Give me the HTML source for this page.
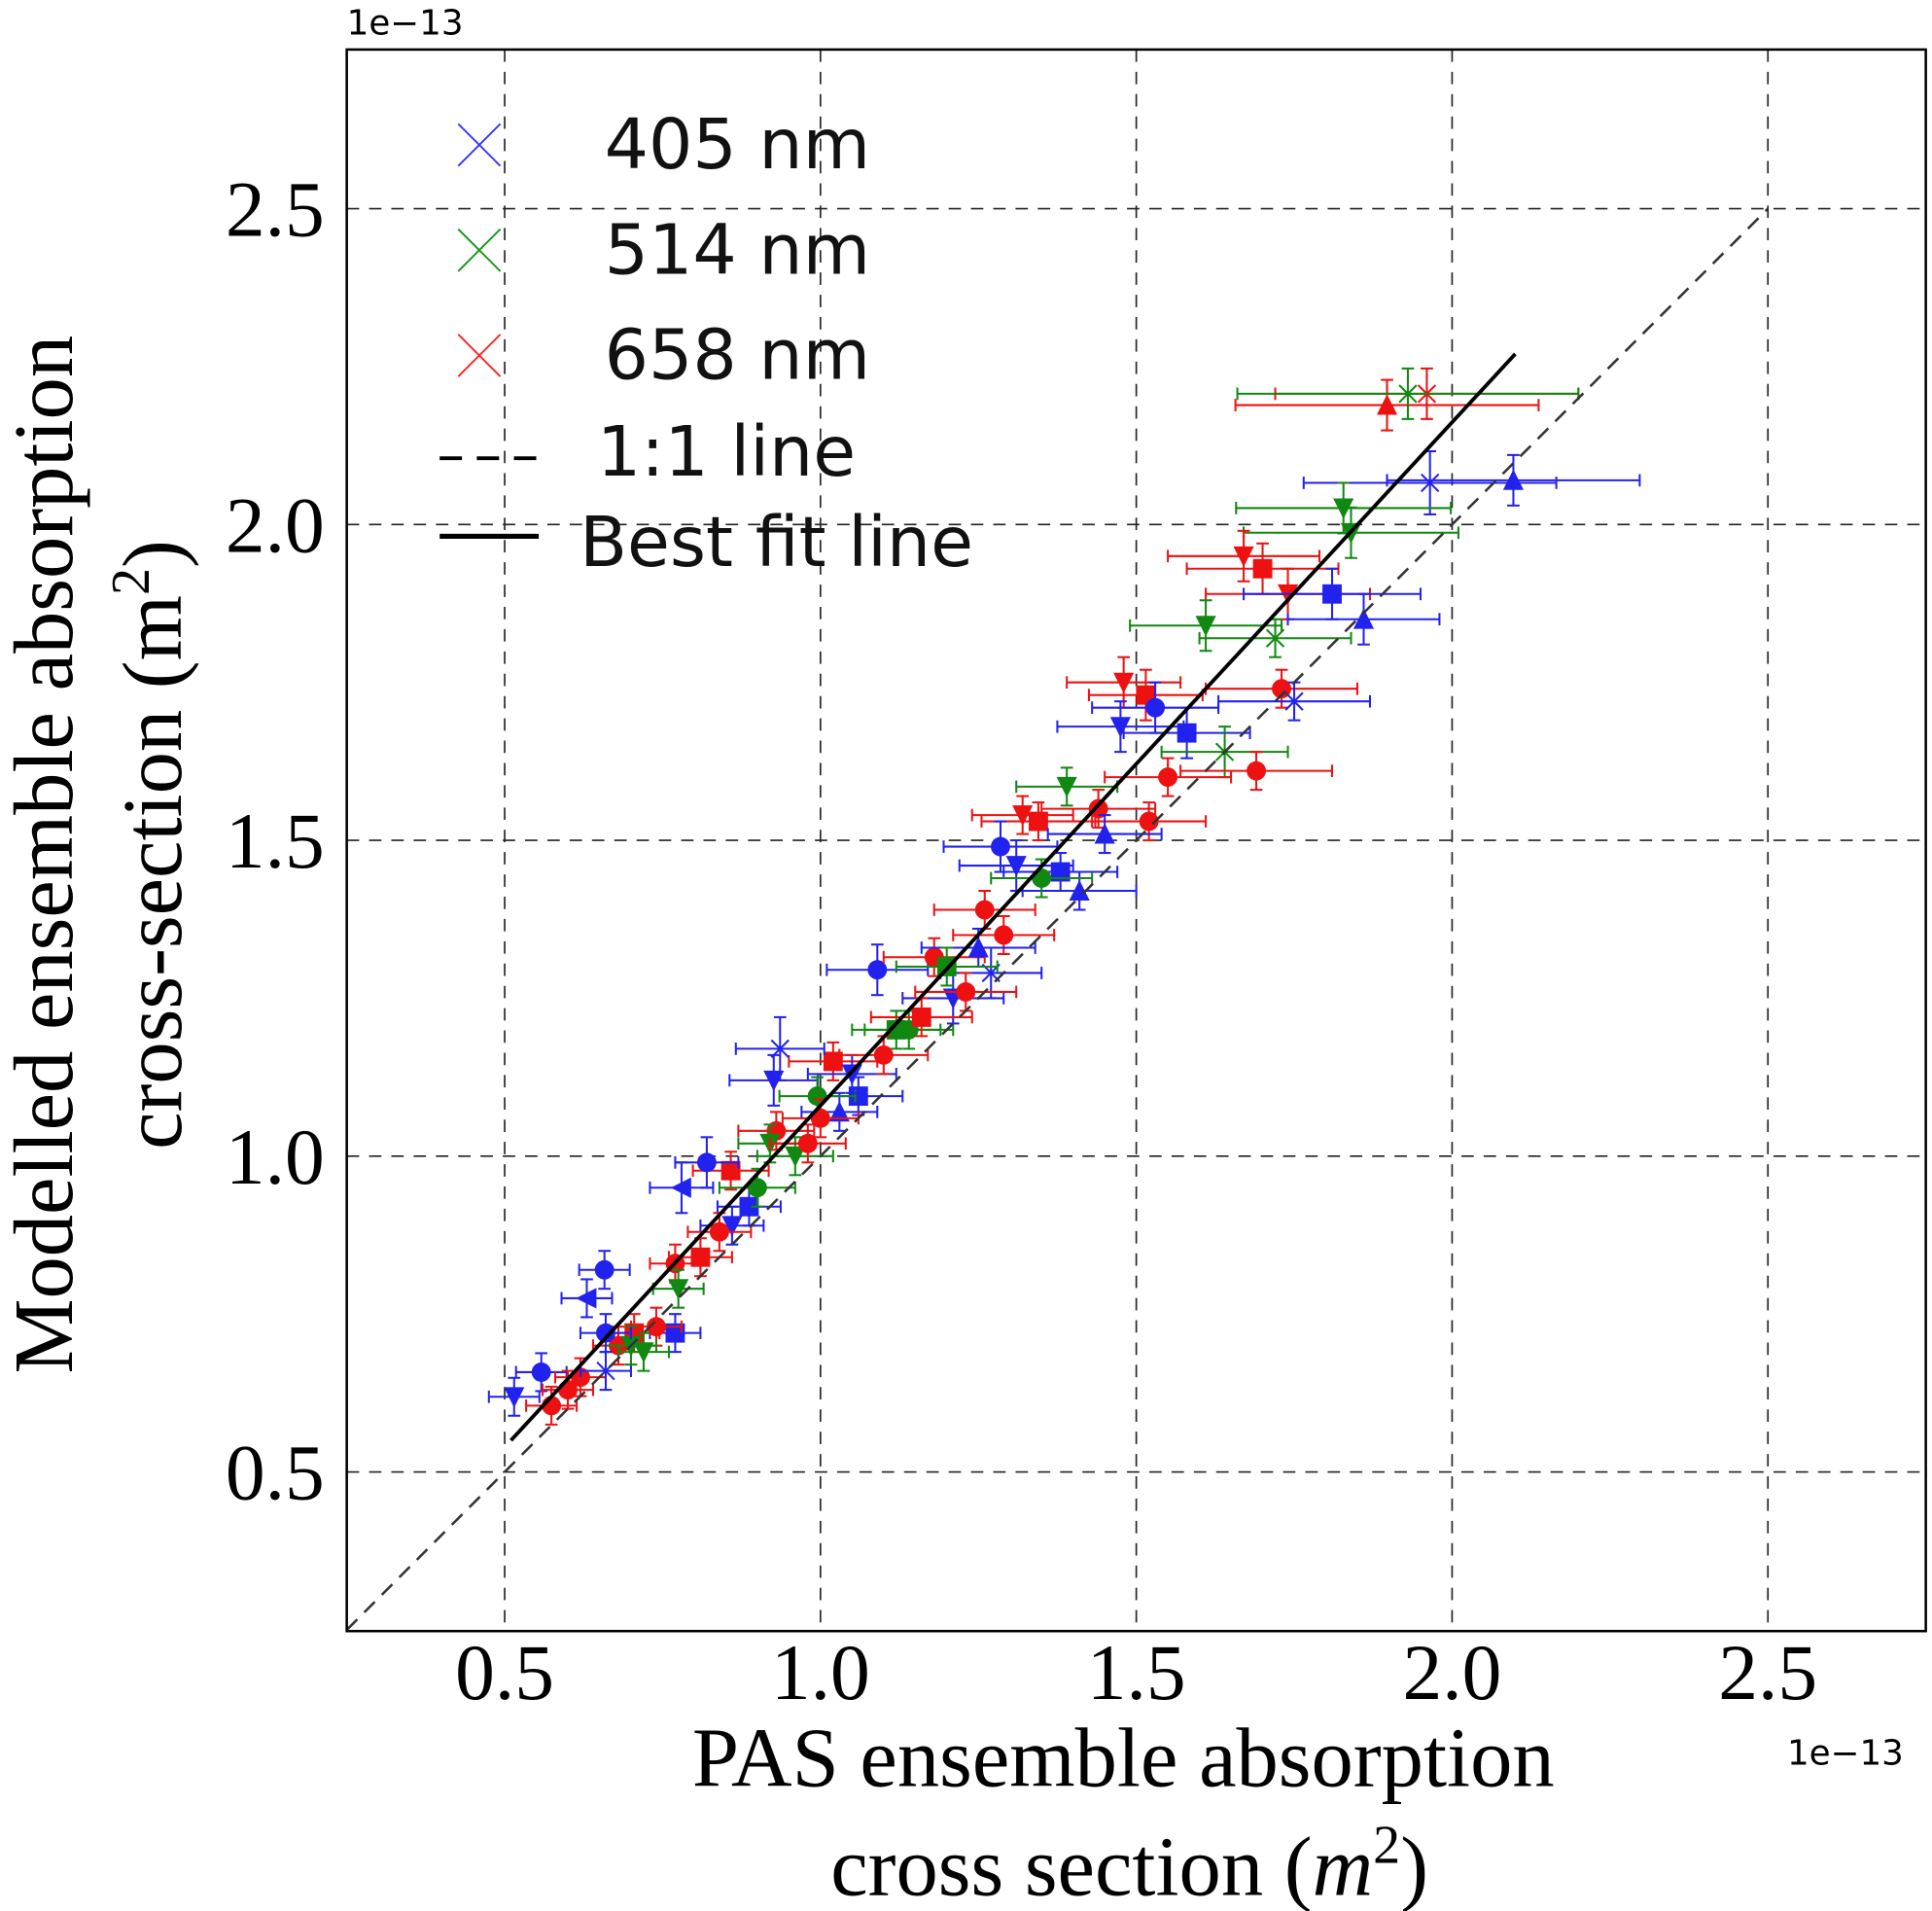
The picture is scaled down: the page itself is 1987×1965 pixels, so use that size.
<!DOCTYPE html>
<html><head><meta charset="utf-8">
<style>html,body{margin:0;padding:0;background:#fff}svg{display:block}</style>
</head><body>
<svg id="chart" width="1987" height="1965" viewBox="0 0 1560 1543" preserveAspectRatio="none" xmlns="http://www.w3.org/2000/svg">
<g id="grid"></g>
<g id="marks"></g>
<g id="lines"></g>
<rect x="280" y="40" width="1275" height="1277" fill="none" stroke="#000" stroke-width="2"/>
<g id="ticks" font-family="'Liberation Serif',serif" font-size="64"></g>
<text x="280" y="28" font-family="'DejaVu Sans',sans-serif" font-size="28">1e−13</text>
<text x="1443" y="1425" font-family="'DejaVu Sans',sans-serif" font-size="28">1e−13</text>
<text x="907" y="1442" text-anchor="middle" font-family="'Liberation Serif',serif" font-size="68">PAS ensemble absorption</text>
<text x="912" y="1530" text-anchor="middle" font-family="'Liberation Serif',serif" font-size="68">cross section (<tspan font-style="italic">m</tspan><tspan dy="-26" font-size="44">2</tspan><tspan dy="26">)</tspan></text>
<text transform="translate(58,690) rotate(-90)" text-anchor="middle" font-family="'Liberation Serif',serif" font-size="68">Modelled ensemble absorption</text>
<text transform="translate(146,682) rotate(-90)" text-anchor="middle" font-family="'Liberation Serif',serif" font-size="68">cross-section (m<tspan dy="-26" font-size="44">2</tspan><tspan dy="26">)</tspan></text>
<g font-family="'DejaVu Sans',sans-serif" font-size="56" fill="#111">
<g><path d="M370,100 L404,134 M404,100 L370,134" stroke="#3333ff" stroke-width="1.5"/><text x="488" y="136">405 nm</text></g>
<g><path d="M370,185 L404,219 M404,185 L370,219" stroke="#119911" stroke-width="1.5"/><text x="488" y="221">514 nm</text></g>
<g><path d="M370,270 L404,304 M404,270 L370,304" stroke="#ff2222" stroke-width="1.5"/><text x="488" y="306">658 nm</text></g>
<g><line x1="355" y1="370" x2="440" y2="370" stroke="#000" stroke-width="3" stroke-dasharray="18,12"/><text x="482" y="384">1:1 line</text></g>
<g><line x1="355" y1="433" x2="435" y2="433" stroke="#000" stroke-width="4"/><text x="468" y="457">Best fit line</text></g>
</g>
</svg>
<script>
const ticks=[0.5,1.0,1.5,2.0,2.5];
const tickLabels=["0.5","1.0","1.5","2.0","2.5"];
const px=[1.897,1.96,1.93,2.097,1.965,1.828,1.84,1.67,1.70,1.74,1.81,1.86,1.61,1.48,1.515,1.53,1.73,1.75,1.58,1.475,1.64,1.39,1.32,1.345,1.52,1.285,1.31,1.38,1.41,1.26,1.29,1.09,1.18,1.21,1.27,1.02,1.14,0.936,0.926,1.06,1.03,0.995,0.858,0.93,0.78,0.82,0.887,0.86,0.92,0.658,0.63,0.77,0.775,0.77,0.705,0.68,0.558,0.515,0.574,0.62,0.66,1.72,1.44,1.35,1.23,1.12,1.0,0.96,0.9,0.84,0.74,0.72,0.6,1.45,1.25,1.05,1.16,0.98,0.7,0.81,1.69,1.55,1.2,1.1,0.66];
const py=[2.189,2.207,2.207,2.07,2.066,2.026,1.987,1.95,1.93,1.89,1.89,1.85,1.84,1.75,1.73,1.71,1.74,1.72,1.67,1.68,1.64,1.585,1.54,1.53,1.53,1.49,1.46,1.45,1.42,1.39,1.35,1.295,1.315,1.25,1.29,1.15,1.20,1.17,1.12,1.095,1.07,1.095,0.977,1.04,0.95,0.99,0.92,0.89,1.02,0.82,0.775,0.83,0.79,0.72,0.72,0.70,0.658,0.619,0.605,0.65,0.66,1.82,1.55,1.44,1.26,1.2,1.06,1.0,0.95,0.88,0.73,0.69,0.63,1.51,1.33,1.13,1.22,1.02,0.7,0.84,1.61,1.6,1.3,1.16,0.72];
const pc=["r","r","g","b","b","g","g","r","r","r","b","b","g","r","r","b","r","b","b","b","g","g","r","r","r","b","b","b","b","r","r","b","r","b","b","r","g","b","b","b","b","g","r","r","b","b","b","b","g","b","b","r","g","b","r","r","b","b","r","r","b","g","r","g","r","g","r","g","g","r","r","g","r","b","b","b","r","r","g","r","r","r","g","r","b"];
const pm=["^","*","*","^","*","v","v","v","s","v","s","^","v","v","s","o","o","*","s","v","*","v","v","s","o","o","v","s","^","o","o","o","o","v","*","s","o","*","v","s","^","o","s","o","<","o","s","v","v","o","<","o","v","s","s","o","o","v","o","o","*","*","o","o","o","s","o","v","o","o","o","v","o","^","^","v","s","o","v","s","o","o","s","o","o"];
const ex=[0.24,0.24,0.27,0.2,0.2,0.17,0.17,0.12,0.12,0.13,0.14,0.12,0.12,0.09,0.09,0.1,0.12,0.12,0.1,0.1,0.1,0.08,0.08,0.09,0.09,0.09,0.09,0.09,0.09,0.08,0.08,0.08,0.08,0.08,0.08,0.07,0.07,0.07,0.07,0.07,0.06,0.06,0.06,0.06,0.05,0.05,0.05,0.05,0.05,0.04,0.04,0.04,0.04,0.04,0.04,0.04,0.04,0.04,0.04,0.04,0.04,0.12,0.09,0.08,0.08,0.07,0.06,0.06,0.06,0.05,0.04,0.04,0.04,0.09,0.09,0.07,0.08,0.06,0.04,0.05,0.12,0.1,0.08,0.07,0.04];
const ey=[0.04,0.04,0.04,0.04,0.05,0.04,0.04,0.04,0.04,0.04,0.04,0.04,0.04,0.04,0.04,0.04,0.03,0.03,0.04,0.04,0.04,0.03,0.03,0.03,0.03,0.04,0.04,0.03,0.03,0.03,0.03,0.04,0.03,0.04,0.04,0.03,0.03,0.05,0.04,0.03,0.03,0.03,0.03,0.03,0.04,0.04,0.03,0.03,0.03,0.03,0.03,0.03,0.03,0.03,0.03,0.03,0.03,0.03,0.03,0.03,0.03,0.03,0.03,0.03,0.03,0.03,0.03,0.03,0.03,0.03,0.03,0.03,0.03,0.03,0.03,0.03,0.03,0.03,0.03,0.03,0.03,0.03,0.03,0.03,0.03];
const fitStart=[0.51,0.55], fitEnd=[2.1,2.27];
const X=v=>280+(v-0.25)*510, Y=v=>1316-(v-0.25)*510;
const NS="http://www.w3.org/2000/svg";
const col={b:"#2222ee",g:"#118811",r:"#ee1111"};
function mk(tag,attrs,parent){const e=document.createElementNS(NS,tag);for(const k in attrs)e.setAttribute(k,attrs[k]);parent.appendChild(e);return e;}
const grid=document.getElementById('grid'),tk=document.getElementById('ticks');
ticks.forEach((t,i)=>{
 let l=mk('line',{x1:X(t),x2:X(t),y1:40,y2:1317,stroke:"#222","stroke-width":1.3,"stroke-dasharray":"10,8"},grid);
 
 
 l=mk('line',{x1:280,x2:1555,y1:Y(t),y2:Y(t),stroke:"#222","stroke-width":1.3,"stroke-dasharray":"10,8"},grid);
 
 
 let tx=mk('text',{x:X(t),y:1372,"text-anchor":"middle"},tk);tx.textContent=tickLabels[i];
 
 
 tx=mk('text',{x:262,y:Y(t)+22,"text-anchor":"end"},tk);tx.textContent=tickLabels[i];
 
 
});
const marks=document.getElementById('marks');
for(let i=0;i<px.length;i++){
 const c=col[pc[i]],x=X(px[i]),y=Y(py[i]);
 const g=mk('g',{stroke:c,fill:c,"stroke-width":1.6},marks);
 
 
 mk('line',{x1:X(px[i]-ex[i]),x2:X(px[i]+ex[i]),y1:y,y2:y},g);
 mk('line',{x1:x,x2:x,y1:Y(py[i]-ey[i]),y2:Y(py[i]+ey[i])},g);
 const cap=5;
 [X(px[i]-ex[i]),X(px[i]+ex[i])].forEach(xx=>mk('line',{x1:xx,x2:xx,y1:y-cap,y2:y+cap},g));
 [Y(py[i]-ey[i]),Y(py[i]+ey[i])].forEach(yy=>mk('line',{x1:x-cap,x2:x+cap,y1:yy,y2:yy},g));
 const s=7,m=pm[i];
 if(m==="o")mk('circle',{cx:x,cy:y,r:s},g);
 else if(m==="s")mk('rect',{x:x-s,y:y-s,width:2*s,height:2*s},g);
 else if(m==="^")mk('polygon',{points:`${x},${y-s} ${x-s},${y+s} ${x+s},${y+s}`},g);
 else if(m==="v")mk('polygon',{points:`${x-s},${y-s} ${x+s},${y-s} ${x},${y+s}`},g);
 else if(m==="<")mk('polygon',{points:`${x-s},${y} ${x+s},${y-s} ${x+s},${y+s}`},g);
 else mk('path',{d:`M${x-s},${y-s}L${x+s},${y+s}M${x+s},${y-s}L${x-s},${y+s}`},g);
}
const lines=document.getElementById('lines');
let l=mk('line',{x1:X(0.25),y1:Y(0.25),x2:X(2.5),y2:Y(2.5),stroke:"#333","stroke-width":2,"stroke-dasharray":"12,8"},lines);


l=mk('line',{x1:X(fitStart[0]),y1:Y(fitStart[1]),x2:X(fitEnd[0]),y2:Y(fitEnd[1]),stroke:"#000","stroke-width":3},lines);


</script>
</body></html>
